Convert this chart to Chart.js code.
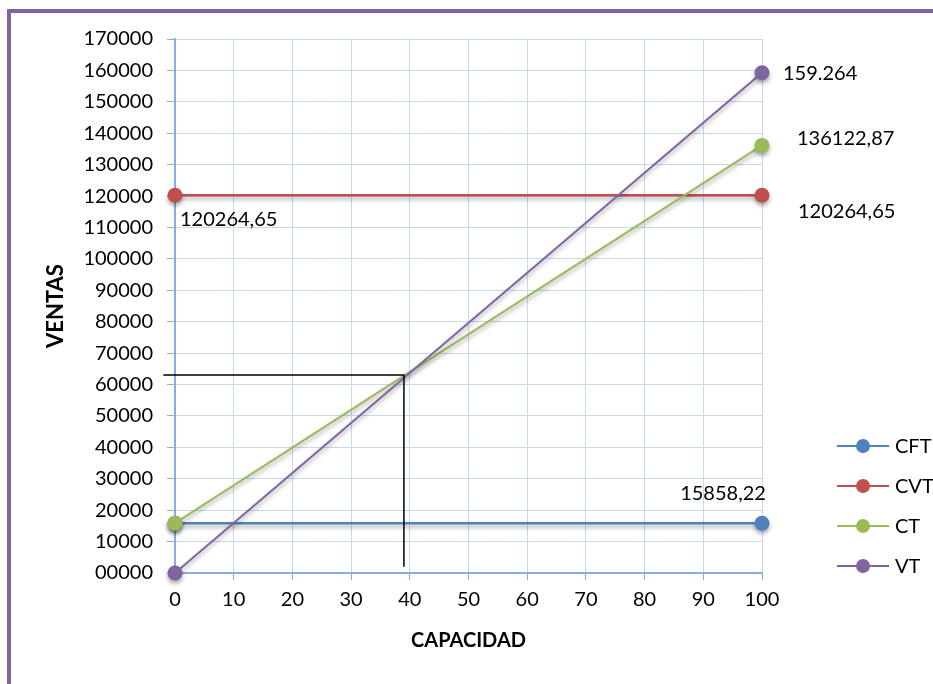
<!DOCTYPE html>
<html>
<head>
<meta charset="utf-8">
<script src="https://cdn.jsdelivr.net/npm/chart.js@4/dist/chart.umd.min.js"></script>
<style>
  body { margin: 0; background: #fff; }
  #wrap { position: relative; width: 933px; height: 684px; overflow: hidden; }
  #frame { position: absolute; left: 7px; top: 9px; width: 1000px; height: 1000px;
           border-left: 4px solid #8064A2; border-top: 4px solid #8064A2; pointer-events: none; }
</style>
</head>
<body>
<div id="wrap">
  <canvas id="myChart" width="933" height="684"></canvas>
  <div id="frame"></div>
</div>
<script>
// datos
const capacidad = [0, 100];
const cft = [15858.22, 15858.22];
const cvt = [120264.65, 120264.65];
const ct = [15858.22, 136122.87];
const vt = [0, 159264];
// lineas guia (punto de equilibrio)
const guiaX = [-2, 39, 39];
const guiaY = [63000, 63000, 2000];

const series = ["CFT", "CVT", "CT", "VT"];
const colores = ["#4F81BD", "#C0504D", "#9BBB59", "#8064A2"];

// etiquetas de valores: [serie, indice, texto]
const etiquetas = [
  [3, 1, "159.264"],
  [2, 1, "136122,87"],
  [1, 1, "120264,65"],
  [1, 0, "120264,65"],
  [0, 1, "15858,22"],
];

function puntos(xs, ys) {
  return xs.map((x, i) => ({ x: x, y: ys[i] }));
}

const FONT = "Lato, 'Open Sans', sans-serif";

const sombra = {
  id: "sombra",
  beforeDatasetDraw(chart, args) {
    if (args.index > 3) return;
    const ctx = chart.ctx;
    ctx.save();
    ctx.shadowColor = "rgba(0,0,0,0.35)";
    ctx.shadowBlur = 4;
    ctx.shadowOffsetY = 3;
  },
  afterDatasetDraw(chart, args) {
    if (args.index > 3) return;
    chart.ctx.restore();
  },
};

const extras = {
  id: "extras",
  afterDraw(chart) {
    const ctx = chart.ctx;
    ctx.save();
    ctx.fillStyle = "#000";
    ctx.font = "20px " + FONT;
    ctx.textBaseline = "middle";
    // etiquetas de datos
    const offs = {
      "3-1": [21, 1, "left"],
      "2-1": [35, -7, "left"],
      "1-1": [36, 16, "left"],
      "1-0": [5, 24, "left"],
      "0-1": [-39, -30, "center"],
    };
    etiquetas.forEach(([s, i, txt]) => {
      const p = chart.getDatasetMeta(s).data[i];
      const o = offs[s + "-" + i];
      ctx.textAlign = o[2];
      ctx.fillText(txt, p.x + o[0], p.y + o[1]);
    });
    // leyenda
    ctx.textAlign = "left";
    series.forEach((name, k) => {
      const y = 446 + k * 40;
      ctx.strokeStyle = colores[k];
      ctx.lineWidth = 2;
      ctx.beginPath();
      ctx.moveTo(837, y);
      ctx.lineTo(889, y);
      ctx.stroke();
      ctx.fillStyle = colores[k];
      ctx.beginPath();
      ctx.arc(863, y, 7, 0, Math.PI * 2);
      ctx.fill();
      ctx.fillStyle = "#000";
      ctx.fillText(name, 895, y + 1);
    });
    ctx.restore();
  },
};

function serie(i, data, ancho, orden) {
  return {
    label: series[i], data: data, borderColor: colores[i], backgroundColor: colores[i],
    pointBackgroundColor: colores[i], pointBorderWidth: 0, pointBorderColor: colores[i],
    borderWidth: ancho, order: orden, clip: false,
  };
}

const datos = {
  datasets: [
    serie(0, puntos(capacidad, cft), 2.5, 4),
    serie(1, puntos(capacidad, cvt), 2.5, 3),
    serie(2, puntos(capacidad, ct), 2, 2),
    serie(3, puntos(capacidad, vt), 2, 1),
    { label: "guia", data: puntos(guiaX, guiaY), borderColor: "#000", borderWidth: 1.5, pointRadius: 0, order: 0, clip: false },
  ],
};

const config = {
  type: "line",
  data: datos,
  options: {
    responsive: false,
    animation: false,
    devicePixelRatio: 1,
    layout: { padding: { left: 0, top: 39, right: 171, bottom: 0 } },
    elements: {
      point: { radius: 7.5, hoverRadius: 7.5, borderWidth: 0 },
      line: { tension: 0 },
    },
    plugins: { legend: { display: false }, tooltip: { enabled: false } },
    scales: {
      x: {
        type: "linear",
        min: 0,
        max: 100,
        afterFit(scale) { scale.height = 111; },
        ticks: { stepSize: 10, color: "#000", padding: 8, font: { family: FONT, size: 20 } },
        grid: { color: "#C6D9F1", tickColor: "#86AEE0", tickLength: 7 },
        border: { color: "#86AEE0", width: 2 },
        title: { display: true, text: "CAPACIDAD", color: "#000", padding: { top: 0, bottom: 31 },
                 font: { family: FONT, size: 20, weight: "bold" } },
      },
      y: {
        min: 0,
        max: 170000,
        afterFit(scale) { scale.width = 175; },
        ticks: {
          stepSize: 10000, color: "#000", padding: 14, font: { family: FONT, size: 20 },
          callback: (v) => (v === 0 ? "00000" : String(v)),
        },
        grid: { color: "#C6D9F1", tickColor: "#86AEE0", tickLength: 8 },
        border: { color: "#86AEE0", width: 2 },
        title: { display: true, text: "VENTAS", color: "#000", padding: { top: 43, bottom: 0 },
                 font: { family: FONT, size: 22, weight: "bold" } },
      },
    },
  },
  plugins: [sombra, extras],
};

new Chart(document.getElementById("myChart"), config);
</script>
</body>
</html>
